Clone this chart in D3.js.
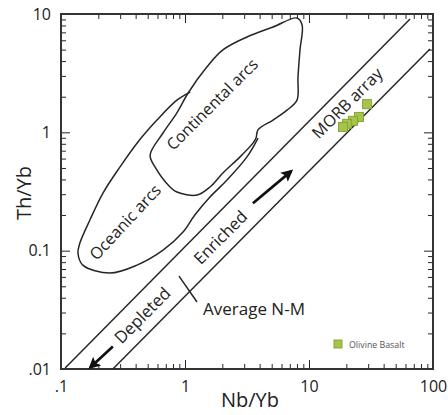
<!DOCTYPE html>
<html><head><meta charset="utf-8">
<script src="https://cdn.jsdelivr.net/npm/d3@7"></script>
<style>
body{margin:0;background:#fff;}
svg{display:block;font-family:"Open Sans",sans-serif;}
</style></head>
<body>
<svg id="c" width="448" height="415"></svg>
<script>
// ---- data ----
const xTickValues = [0.1, 1, 10, 100];
const xTickLabels = [".1", "1", "10", "100"];
const yTickValues = [0.01, 0.1, 1, 10];
const yTickLabels = [".01", "0.1", "1", "10"];

// Olivine Basalt samples (Nb/Yb, Th/Yb)
const basaltNbYb = [29.4, 25.3, 22.6, 20.2, 18.8];
const basaltThYb = [1.73, 1.35, 1.25, 1.18, 1.11];

// Continental arcs field (closed)
const contNb = [1.06, 1.50, 2.02, 3.16, 5.13, 8.0, 8.8, 8.46, 8.15, 8.0, 6.65, 5.13, 3.88, 3.74, 3.53, 2.78, 2.02, 1.59, 1.25, 0.86, 0.757, 0.573, 0.523, 0.665, 0.86];
const contTh = [2.15, 3.56, 4.97, 6.39, 7.76, 9.25, 8.07, 4.97, 2.93, 1.87, 1.54, 1.27, 1.05, 0.895, 0.81, 0.62, 0.453, 0.345, 0.295, 0.313, 0.345, 0.51, 0.643, 0.987, 1.46];

// Oceanic arcs field (open outline joining continental field)
const oceNb = [3.88, 3.16, 2.18, 1.59, 1.2, 0.964, 0.665, 0.41, 0.248, 0.150, 0.137, 0.142, 0.171, 0.218, 0.299, 0.41, 0.594, 0.86, 1.10];
const oceTh = [0.895, 0.62, 0.395, 0.284, 0.2, 0.1435, 0.101, 0.0755, 0.0647, 0.0755, 0.0955, 0.116, 0.1815, 0.307, 0.51, 0.81, 1.27, 1.87, 2.19];

// MORB array boundaries
const morbUpperNb = [0.108, 65.3], morbUpperTh = [0.0102, 9.08];
const morbLowerNb = [0.262, 94.6], morbLowerTh = [0.01, 5.06];
// Average N-MORB marker
const nmorbNb = [0.895, 1.25], nmorbTh = [0.061, 0.0368];
// arrows [tail, tip]
const depletedNb = [0.262, 0.172], depletedTh = [0.0155, 0.0103];
const enrichedNb = [3.53, 7.2], enrichedTh = [0.252, 0.47];

const legendLabel = "Olivine Basalt";

// ---- layout ----
const svg = d3.select("#c");
const L = 61, R = 433, T = 14, B = 369;
const x = d3.scaleLog().domain([0.1, 100]).range([L, R]);
const y = d3.scaleLog().domain([0.01, 10]).range([B, T]);
const ink = "#262626";

const minorX = [], minorY = [];
[0.1, 1, 10].forEach(d => { for (let k = 2; k <= 9; k++) minorX.push(d * k); });
[0.01, 0.1, 1].forEach(d => { for (let k = 2; k <= 9; k++) minorY.push(d * k); });

function axisGroup(axis, tr) {
  const g = svg.append("g").attr("transform", tr).call(axis);
  g.select(".domain").remove();
  g.selectAll(".tick line").attr("stroke", ink).attr("stroke-width", 1);
  g.selectAll(".tick text").attr("fill", "#222").attr("font-size", 16).attr("font-family", '"Open Sans",sans-serif');
  return g;
}
// bottom
axisGroup(d3.axisBottom(x).tickValues(minorX).tickSize(-5).tickFormat(""), `translate(0,${B})`);
axisGroup(d3.axisBottom(x).tickValues(xTickValues).tickSize(-9).tickPadding(12).tickFormat((d, i) => xTickLabels[i]), `translate(0,${B})`);
// top
axisGroup(d3.axisTop(x).tickValues(minorX).tickSize(-5).tickFormat(""), `translate(0,${T})`);
axisGroup(d3.axisTop(x).tickValues(xTickValues).tickSize(-9).tickFormat(""), `translate(0,${T})`);
// left
axisGroup(d3.axisLeft(y).tickValues(minorY).tickSize(-5).tickFormat(""), `translate(${L},0)`);
axisGroup(d3.axisLeft(y).tickValues(yTickValues).tickSize(-9).tickPadding(10).tickFormat((d, i) => yTickLabels[i]), `translate(${L},0)`);
// right
axisGroup(d3.axisRight(y).tickValues(minorY).tickSize(-5).tickFormat(""), `translate(${R},0)`);
axisGroup(d3.axisRight(y).tickValues(yTickValues).tickSize(-9).tickFormat(""), `translate(${R},0)`);

// frame
svg.append("rect").attr("x", L).attr("y", T).attr("width", R - L).attr("height", B - T)
  .attr("fill", "none").attr("stroke", "#333").attr("stroke-width", 2);

// axis titles
svg.append("text").attr("x", 250).attr("y", 407).attr("text-anchor", "middle")
  .attr("font-size", 20).attr("fill", "#222").text("Nb/Yb");
svg.append("text").attr("transform", "translate(31,193) rotate(-90)").attr("text-anchor", "middle")
  .attr("font-size", 20).attr("fill", "#222").text("Th/Yb");

// fields
const contPts = contNb.map((v, i) => [v, contTh[i]]);
const ocePts = oceNb.map((v, i) => [v, oceTh[i]]);
svg.append("path").attr("d", d3.line().x(d => x(d[0])).y(d => y(d[1])).curve(d3.curveCatmullRomClosed.alpha(0.5))(contPts))
  .attr("fill", "none").attr("stroke", ink).attr("stroke-width", 1.5);
svg.append("path").attr("d", d3.line().x(d => x(d[0])).y(d => y(d[1])).curve(d3.curveCatmullRom.alpha(0.5))(ocePts))
  .attr("fill", "none").attr("stroke", ink).attr("stroke-width", 1.5);

// MORB array lines
function seg(xs, ys, w) {
  svg.append("line").attr("x1", x(xs[0])).attr("y1", y(ys[0])).attr("x2", x(xs[1])).attr("y2", y(ys[1]))
    .attr("stroke", ink).attr("stroke-width", w);
}
seg(morbUpperNb, morbUpperTh, 1.5);
seg(morbLowerNb, morbLowerTh, 1.5);
seg(nmorbNb, nmorbTh, 1.5);

// arrows
svg.append("defs").append("marker").attr("id", "ah").attr("viewBox", "0 0 10 10")
  .attr("refX", 8).attr("refY", 5).attr("markerWidth", 5.2).attr("markerHeight", 4.4)
  .attr("markerUnits", "strokeWidth").attr("orient", "auto")
  .append("path").attr("d", "M0,0 L10,5 L0,10 L2,5 z").attr("fill", "#111");
function arrow(xs, ys) {
  svg.append("line").attr("x1", x(xs[0])).attr("y1", y(ys[0])).attr("x2", x(xs[1])).attr("y2", y(ys[1]))
    .attr("stroke", "#111").attr("stroke-width", 2.7).attr("marker-end", "url(#ah)");
}
arrow(depletedNb, depletedTh);
arrow(enrichedNb, enrichedTh);

// rotated labels
function rlabel(cx, cy, ang, txt, fs) {
  svg.append("text").attr("transform", `translate(${cx},${cy}) rotate(${ang})`)
    .attr("text-anchor", "middle").attr("dominant-baseline", "central")
    .attr("font-size", fs).attr("fill", "#222").text(txt);
}
rlabel(212, 104, -45, "Continental arcs", 16);
rlabel(125, 222, -47, "Oceanic arcs", 16.3);
rlabel(347, 103, -45, "MORB array", 16.3);
rlabel(220, 237, -45, "Enriched", 16.5);
rlabel(142, 315, -45, "Depleted", 16.8);
svg.append("text").attr("x", 203).attr("y", 315).attr("font-size", 17).attr("fill", "#222").text("Average N-M");

// samples
const pts = basaltNbYb.map((v, i) => [v, basaltThYb[i]]);
svg.selectAll("rect.s").data(pts).enter().append("rect").attr("class", "s")
  .attr("x", d => x(d[0]) - 4.5).attr("y", d => y(d[1]) - 4.5)
  .attr("width", 9).attr("height", 9)
  .attr("fill", "#a6c34c").attr("stroke", "#86a632").attr("stroke-width", 1);

// legend
svg.append("rect").attr("x", 334).attr("y", 340).attr("width", 8).attr("height", 8)
  .attr("fill", "#a6c34c").attr("stroke", "#86a632").attr("stroke-width", 1);
svg.append("text").attr("x", 349).attr("y", 347.5).attr("font-size", 8.8).attr("fill", "#555").text(legendLabel);
</script>
</body></html>
